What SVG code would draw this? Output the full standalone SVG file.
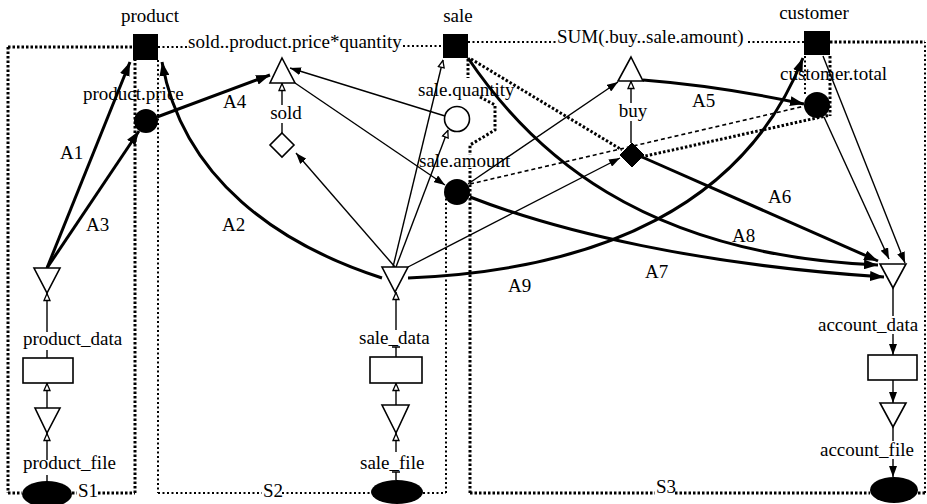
<svg xmlns="http://www.w3.org/2000/svg" width="927" height="504" viewBox="0 0 927 504">
<defs>
<style>
text{font-family:"Liberation Serif","Times New Roman",serif;font-size:19px;fill:#000}
.dh{stroke:#000;stroke-width:3;stroke-dasharray:2.5 2;fill:none}
.dl{stroke:#000;stroke-width:2;stroke-dasharray:2 2.5;fill:none}
.dd{stroke:#000;stroke-width:1.6;stroke-dasharray:4 3;fill:none}
.tk{stroke:#000;stroke-width:3;fill:none}
.tn{stroke:#000;stroke-width:1.4;fill:none}
.sh{stroke:#000;stroke-width:1.6;fill:#fff}
.fb{stroke:#000;stroke-width:1;fill:#000}
.big{marker-end:url(#ab)}
.sm{marker-end:url(#as)}
.op{marker-end:url(#ao)}
</style>
<marker id="ab" viewBox="0 0 14 10" refX="14" refY="5" markerWidth="14" markerHeight="10" orient="auto" markerUnits="userSpaceOnUse"><path d="M0,0 L14,5 L0,10 Z" fill="#000"/></marker>
<marker id="as" viewBox="0 0 11 8" refX="11" refY="4" markerWidth="11" markerHeight="8" orient="auto" markerUnits="userSpaceOnUse"><path d="M0,0 L11,4 L0,8 Z" fill="#000"/></marker>
<marker id="ao" viewBox="0 0 9 8" refX="8.5" refY="4" markerWidth="9" markerHeight="8" orient="auto" markerUnits="userSpaceOnUse"><path d="M1,1 L8,4 L1,7 Z" fill="#fff" stroke="#000" stroke-width="1.3"/></marker>
</defs>
<rect width="927" height="504" fill="#fff"/>

<g id="regions">
<path class="dh" d="M8,47 H133 M8,47 V493 M8,493 H22 M72,493 H77 M98,493 H135 M135,493 V60"/>
<path class="dl" d="M158,60 V493 M158,493 H262 M282,493 H372 M423,493 H446 M446,493 V198"/>
<path class="dh" d="M470,493 V168 M470,493 H655 M675,493 H870 M918,493 H925 M830,42 H925"/>
<path class="dl" d="M925,493 V42"/>
<path class="dl" d="M158,47 H187 M403,46 H443 M468,42 H556 M748,42 H804"/>
<path class="dh" d="M468,59 V78 M480,97 L495,105 L495,130 L470,145 L470,155"/>
<path class="dh" d="M471,59 L622,150 M641,157 L830,115"/>
<path class="dd" d="M470,184 L805,106"/>
<path class="dl" d="M805,56 V94"/>
<path class="dh" d="M830,56 V116"/>
<text x="78" y="497">S1</text>
<text x="263" y="497">S2</text>
<text x="656" y="493">S3</text>
</g>

<g id="connectors">
<path class="tk big" d="M47,268 L130,62"/>
<path class="tk big" d="M47,268 L139,131"/>
<path class="tk big" d="M157,117 L270,75"/>
<path class="tk big" d="M382,278 C280,245 183,180 162,62"/>
<path class="tk big" d="M643,80 Q720,86 804,104"/>
<path class="tk big" d="M642,157 L878,261"/>
<path class="tk big" d="M470,197 C560,232 700,265 884,277"/>
<path class="tk big" d="M468,58 C530,150 640,255 878,265"/>
<path class="tk big" d="M408,278 C600,270 745,205 803,58"/>
<path class="tn sm" d="M295,83 L445,185"/>
<path class="tn sm" d="M445,116 L290,68"/>
<path class="tn sm" d="M395,267 L296,153"/>
<path class="tn op" d="M393,267 L443,60"/>
<path class="tn op" d="M396,267 L448,130"/>
<path class="tn sm" d="M408,267 L620,158"/>
<path class="tn sm" d="M468,184 L618,82"/>
<path class="tn sm" d="M824,117 L889,259"/>
<path class="tn sm" d="M823,56 L905,263"/>
<path class="tn op" d="M47,460 V433"/>
<path class="tn op" d="M47,408 V383"/>
<path class="tn op" d="M47,332 V293"/>
<path class="tn" d="M47,350 V358 M47,475 V482"/>
<path class="tn op" d="M396,452 V433"/>
<path class="tn op" d="M396,405 V383"/>
<path class="tn op" d="M396,330 V292"/>
<path class="tn" d="M392,347 H400 M396,347 V357 M392,472 H400 M396,472 V480"/>
<path class="tn op" d="M282,105 V83"/>
<path class="tn" d="M282,123 V133"/>
<path class="tn op" d="M631,103 V81"/>
<path class="tn" d="M631,121 V143"/>
<path class="tn" d="M893,288 V316 M893,427 V441"/>
<path class="tn sm" d="M893,334 V355"/>
<path class="tn sm" d="M893,380 V403"/>
<path class="tn sm" d="M893,459 V477"/>
<text x="60" y="159">A1</text>
<text x="86" y="231">A3</text>
<text x="222" y="231">A2</text>
<text x="223" y="108">A4</text>
<text x="692" y="107">A5</text>
<text x="768" y="203">A6</text>
<text x="645" y="278">A7</text>
<text x="732" y="242">A8</text>
<text x="508" y="292">A9</text>
</g>

<g id="product">
<rect x="133" y="34" width="25" height="26" fill="#000"/>
<text x="150" y="22" text-anchor="middle">product</text>
</g>
<g id="sale">
<rect x="443" y="34" width="25" height="24" fill="#000"/>
<text x="458" y="22" text-anchor="middle">sale</text>
</g>
<g id="customer">
<rect x="804" y="31" width="26" height="24" fill="#000"/>
<text x="814" y="19" text-anchor="middle">customer</text>
</g>
<g id="sold-formula"><text x="188" y="48">sold..product.price*quantity</text></g>
<g id="sum-formula"><text x="557" y="43">SUM(.buy..sale.amount)</text></g>
<g id="product-price">
<circle cx="146" cy="121" r="12" fill="#000"/>
<text x="83" y="100">product.price</text>
</g>
<g id="sale-quantity">
<circle cx="457" cy="119" r="12.5" class="sh"/>
<text x="418" y="96">sale.quantity</text>
</g>
<g id="sale-amount">
<circle cx="457" cy="192" r="13" fill="#000"/>
<text x="419" y="167">sale.amount</text>
</g>
<g id="customer-total">
<circle cx="817" cy="105" r="13" fill="#000"/>
<text x="780" y="80">customer.total</text>
</g>
<g id="sold-agg"><path class="sh" d="M282,58 L295,83 L270,83 Z"/></g>
<g id="sold">
<path class="sh" d="M282,133 L294,145 L282,157 L270,145 Z"/>
<text x="286" y="119" text-anchor="middle">sold</text>
</g>
<g id="buy-agg"><path class="sh" d="M631,57 L643,81 L618,81 Z"/></g>
<g id="buy">
<path class="fb" d="M632,143 L644,155 L632,167 L620,155 Z"/>
<text x="633" y="117" text-anchor="middle">buy</text>
</g>
<g id="product-map"><path class="sh" d="M34,268 L60,268 L47,293 Z"/></g>
<g id="product-data">
<rect x="23" y="358" width="50" height="25" class="sh"/>
<text x="23" y="345">product_data</text>
</g>
<g id="product-read"><path class="sh" d="M35,408 L60,408 L47,433 Z"/></g>
<g id="product-file">
<ellipse cx="47" cy="494" rx="25" ry="13" fill="#000"/>
<text x="23" y="469">product_file</text>
</g>
<g id="sale-map"><path class="sh" d="M382,267 L408,267 L395,292 Z"/></g>
<g id="sale-data">
<rect x="370" y="357" width="52" height="26" class="sh"/>
<text x="359" y="344">sale_data</text>
</g>
<g id="sale-read"><path class="sh" d="M382,405 L409,405 L396,433 Z"/></g>
<g id="sale-file">
<ellipse cx="397" cy="492" rx="26" ry="12" fill="#000"/>
<text x="360" y="469">sale_file</text>
</g>
<g id="account-map"><path class="sh" d="M880,264 L906,264 L893,288 Z"/></g>
<g id="account-data">
<rect x="868" y="355" width="49" height="25" class="sh"/>
<text x="818" y="331">account_data</text>
</g>
<g id="account-write"><path class="sh" d="M880,403 L906,403 L893,427 Z"/></g>
<g id="account-file">
<ellipse cx="894" cy="490" rx="24" ry="13" fill="#000"/>
<text x="820" y="456">account_file</text>
</g>
</svg>
